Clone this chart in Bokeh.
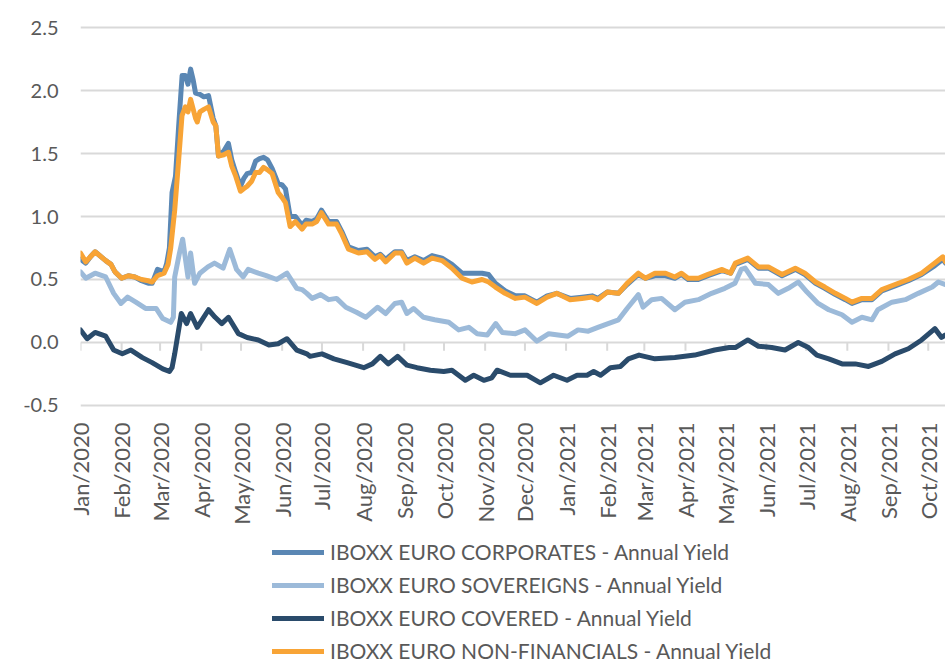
import pandas as pd
from math import pi
from bokeh.plotting import figure
from bokeh.layouts import column
from bokeh.models import Range1d, FixedTicker, NumeralTickFormatter, Legend, LegendItem
from bokeh.embed import file_html
from bokeh.resources import INLINE

# ---------------- data ----------------
start_date = "2020-01-01"
end_day = 652

tick_labels = ["Jan/2020", "Feb/2020", "Mar/2020", "Apr/2020", "May/2020", "Jun/2020",
               "Jul/2020", "Aug/2020", "Sep/2020", "Oct/2020", "Nov/2020", "Dec/2020",
               "Jan/2021", "Feb/2021", "Mar/2021", "Apr/2021", "May/2021", "Jun/2021",
               "Jul/2021", "Aug/2021", "Sep/2021", "Oct/2021"]
y_ticks = [-0.5, 0.0, 0.5, 1.0, 1.5, 2.0, 2.5]

series_names = ["IBOXX EURO CORPORATES - Annual Yield",
                "IBOXX EURO SOVEREIGNS - Annual Yield",
                "IBOXX EURO COVERED - Annual Yield",
                "IBOXX EURO NON-FINANCIALS - Annual Yield"]

# days since 2020-01-01
corp_days = [0, 4, 7.5, 11, 19, 23, 26, 31, 36, 41, 46, 51, 54, 58, 63, 65, 67, 69, 71.6, 74,
             76.6, 79, 81, 83, 85, 86.7, 90, 93, 96.5, 100, 102, 104, 108, 111.5, 114, 117,
             120.6, 123, 125.6, 129, 132, 135, 138, 141, 144.5, 149, 152, 154.5, 158, 162,
             167, 170, 174.6, 178, 181.6, 187, 193, 197, 202, 209.5, 216, 222, 226, 230, 237,
             242, 246, 252, 258.6, 265, 272.5, 280, 287.6, 295, 302.7, 307.6, 312.7, 320,
             327.8, 335, 344, 351.7, 359, 369, 378, 385.6, 390, 397, 405.5, 412, 420.5,
             425.8, 433, 441, 448, 453, 458, 465.7, 473, 483.6, 490, 493.6, 503, 511, 518.5,
             528.8, 538.8, 546, 554, 561, 569, 576.5, 581.5, 589, 596.6, 604, 614, 624, 634,
             644, 650, 652]
corp_vals = [0.66, 0.63, 0.68, 0.72, 0.65, 0.62, 0.56, 0.51, 0.53, 0.52, 0.49, 0.47, 0.47, 0.58,
             0.56, 0.63, 0.75, 1.19, 1.32, 1.72, 2.12, 2.12, 2.05, 2.17, 2.08, 1.98, 1.97, 1.95,
             1.96, 1.78, 1.72, 1.48, 1.52, 1.58, 1.45, 1.35, 1.24, 1.30, 1.34, 1.35, 1.44, 1.46,
             1.47, 1.45, 1.38, 1.26, 1.25, 1.22, 1.00, 1.00, 0.93, 0.97, 0.96, 0.98, 1.05, 0.96,
             0.96, 0.88, 0.76, 0.73, 0.74, 0.68, 0.70, 0.66, 0.72, 0.72, 0.65, 0.68, 0.65, 0.69,
             0.67, 0.62, 0.55, 0.55, 0.55, 0.54, 0.47, 0.41, 0.37, 0.37, 0.32, 0.37, 0.39, 0.35,
             0.36, 0.37, 0.35, 0.40, 0.39, 0.46, 0.54, 0.51, 0.53, 0.53, 0.51, 0.54, 0.50, 0.50,
             0.53, 0.57, 0.55, 0.62, 0.66, 0.59, 0.59, 0.53, 0.58, 0.54, 0.47, 0.43, 0.38, 0.34,
             0.31, 0.34, 0.34, 0.41, 0.45, 0.49, 0.54, 0.61, 0.66, 0.63]

sov_days = [0, 4, 11, 19, 25, 30.5, 35.5, 41.7, 49, 57, 62, 68, 70, 71, 74.6, 77, 81, 83, 86,
            90, 96, 101, 107.5, 112.5, 117.6, 122.6, 126.4, 134, 140, 148, 155.6, 163, 167,
            170.6, 174.6, 181, 187, 193, 200, 208, 215, 224, 230, 237, 242, 246, 251, 258.6,
            267, 277.6, 285, 292.7, 299, 306.6, 313, 318, 327.8, 335, 344, 353, 360, 367.5,
            375, 382.7, 390, 397.7, 405.5, 412, 420.5, 424, 430.6, 438, 448, 455.6, 465.7,
            475.7, 485.7, 493.3, 498, 501, 508.7, 518.5, 526, 533.5, 541, 547.6, 556, 564,
            574, 581.5, 589, 596.6, 601, 611.6, 621.7, 631.5, 642, 646.6, 652]
sov_vals = [0.56, 0.51, 0.55, 0.52, 0.39, 0.31, 0.36, 0.32, 0.27, 0.27, 0.19, 0.16, 0.20, 0.52,
            0.71, 0.82, 0.52, 0.71, 0.47, 0.55, 0.60, 0.63, 0.59, 0.74, 0.58, 0.52, 0.58, 0.55,
            0.53, 0.50, 0.55, 0.43, 0.42, 0.39, 0.35, 0.38, 0.34, 0.35, 0.28, 0.24, 0.20, 0.28,
            0.23, 0.31, 0.32, 0.23, 0.27, 0.20, 0.18, 0.16, 0.10, 0.12, 0.07, 0.06, 0.15, 0.08,
            0.07, 0.10, 0.01, 0.07, 0.06, 0.05, 0.10, 0.09, 0.12, 0.15, 0.18, 0.27, 0.38, 0.28,
            0.34, 0.35, 0.26, 0.32, 0.34, 0.39, 0.43, 0.47, 0.58, 0.59, 0.47, 0.46, 0.39, 0.43,
            0.48, 0.40, 0.31, 0.26, 0.22, 0.16, 0.20, 0.18, 0.26, 0.32, 0.34, 0.39, 0.44, 0.48,
            0.46]

cov_days = [0, 5, 11, 19, 25, 31.5, 38, 46.7, 54, 62, 67, 69, 71, 76, 80, 83, 88, 96.5, 101.5,
            106.5, 111.5, 119, 125.6, 134, 142, 149, 155.6, 163, 170.6, 173, 182, 191, 201,
            213.5, 220, 226, 232, 239, 246, 253.7, 263.7, 273.8, 280, 290, 296.4, 304, 310,
            314, 324, 336.6, 346.6, 356.6, 366.7, 374.3, 381.8, 386.8, 392, 399.4, 407, 413,
            421, 433, 448, 463, 478, 489, 493.6, 503, 511, 521, 531, 541, 548.7, 555, 564, 574,
            584, 594, 604, 614, 624, 634, 644, 649, 652]
cov_vals = [0.10, 0.03, 0.08, 0.05, -0.06, -0.09, -0.06, -0.12, -0.16, -0.21, -0.23, -0.20,
            -0.09, 0.23, 0.15, 0.23, 0.12, 0.26, 0.20, 0.15, 0.20, 0.07, 0.04, 0.02, -0.02,
            -0.01, 0.03, -0.06, -0.09, -0.11, -0.09, -0.13, -0.16, -0.20, -0.17, -0.11, -0.17,
            -0.11, -0.18, -0.20, -0.22, -0.23, -0.22, -0.30, -0.26, -0.30, -0.28, -0.22, -0.26,
            -0.26, -0.32, -0.26, -0.30, -0.26, -0.26, -0.23, -0.26, -0.20, -0.19, -0.13, -0.10,
            -0.13, -0.12, -0.10, -0.06, -0.04, -0.04, 0.02, -0.03, -0.04, -0.06, 0.00, -0.04,
            -0.10, -0.13, -0.17, -0.17, -0.19, -0.15, -0.09, -0.05, 0.02, 0.11, 0.04, 0.06]

nonfin_days = [0, 4, 7.5, 11, 19, 23, 26, 31, 36, 41, 46, 51, 54, 58, 63, 66, 68, 71, 74, 76.5,
               79, 81, 83, 86.7, 88, 90, 93, 96.5, 100, 102, 104, 108, 111.5, 114, 117, 120.6,
               123, 125.6, 129, 132, 135, 138, 141, 144.5, 149, 152, 154.5, 158, 162, 167, 170,
               174.6, 178, 181.6, 187, 193, 197, 202, 209.5, 216, 222, 226, 230, 237, 242, 246,
               252, 258.6, 265, 272.5, 280, 287.6, 295, 302.7, 307.6, 312.7, 320, 327.8, 335,
               344, 351.7, 359, 369, 378, 385.6, 390, 397, 405.5, 412, 420.5, 425.8, 433, 441,
               448, 453, 458, 465.7, 473, 483.6, 490, 493.6, 503, 511, 518.5, 528.8, 538.8, 546,
               554, 561, 569, 576.5, 581.5, 589, 596.6, 604, 614, 624, 634, 644, 650, 652]
nonfin_vals = [0.71, 0.64, 0.68, 0.72, 0.65, 0.62, 0.56, 0.51, 0.53, 0.52, 0.50, 0.49, 0.48,
               0.53, 0.55, 0.62, 0.75, 1.05, 1.45, 1.80, 1.87, 1.83, 1.93, 1.78, 1.75, 1.83,
               1.85, 1.87, 1.75, 1.72, 1.48, 1.49, 1.51, 1.40, 1.32, 1.20, 1.22, 1.24, 1.28,
               1.35, 1.35, 1.39, 1.37, 1.34, 1.19, 1.15, 1.11, 0.92, 0.96, 0.90, 0.94, 0.94,
               0.96, 1.03, 0.94, 0.94, 0.86, 0.74, 0.71, 0.72, 0.66, 0.69, 0.64, 0.71, 0.71,
               0.63, 0.67, 0.63, 0.67, 0.65, 0.59, 0.51, 0.48, 0.50, 0.48, 0.44, 0.39, 0.35,
               0.36, 0.31, 0.36, 0.39, 0.34, 0.35, 0.36, 0.34, 0.40, 0.39, 0.47, 0.55, 0.51,
               0.55, 0.55, 0.52, 0.55, 0.51, 0.51, 0.54, 0.58, 0.55, 0.63, 0.67, 0.60, 0.60,
               0.54, 0.59, 0.55, 0.48, 0.44, 0.39, 0.35, 0.32, 0.35, 0.35, 0.42, 0.46, 0.50,
               0.55, 0.63, 0.68, 0.64]

colors = ["#5A87B4", "#9CBAD9", "#2A4B6B", "#F8A436"]

# ---------------- helpers ----------------
t0 = pd.Timestamp(start_date)


def to_dates(days):
    return t0 + pd.to_timedelta(pd.Series(days, dtype=float), unit="D")


tick_dates = pd.to_datetime(pd.Series(tick_labels), format="%b/%Y")
tick_ms = [(d - pd.Timestamp("1970-01-01")) / pd.Timedelta(milliseconds=1) for d in tick_dates]

FONT = "Lato"
TXT = "#595959"
GRID = "#D9D9D9"

series = [(corp_days, corp_vals), (sov_days, sov_vals), (cov_days, cov_vals),
          (nonfin_days, nonfin_vals)]

# ---------------- main chart ----------------
p = figure(width=945, height=532, x_axis_type="datetime",
           x_range=Range1d(t0, t0 + pd.Timedelta(days=end_day)),
           y_range=Range1d(-0.524, 2.524),
           output_backend="svg", toolbar_location=None,
           min_border_left=80, min_border_right=0, min_border_top=24, min_border_bottom=124)
p.outline_line_color = None
p.background_fill_color = "white"
p.border_fill_color = "white"

p.xaxis.ticker = FixedTicker(ticks=tick_ms)
p.xaxis.major_label_overrides = {ms: lab for ms, lab in zip(tick_ms, tick_labels)}
p.xaxis.major_label_orientation = pi / 2
p.xaxis.axis_line_color = None
p.xaxis.major_tick_line_color = None
p.xaxis.major_tick_out = 0
p.xaxis.major_tick_in = 0
p.xaxis.minor_tick_line_color = None
p.xaxis.major_label_standoff = 14
p.xaxis.major_label_text_font = FONT
p.xaxis.major_label_text_font_size = "22px"
p.xaxis.major_label_text_color = TXT

p.yaxis.ticker = FixedTicker(ticks=y_ticks)
p.yaxis.formatter = NumeralTickFormatter(format="0.0")
p.yaxis.axis_line_color = None
p.yaxis.major_tick_line_color = None
p.yaxis.major_tick_out = 0
p.yaxis.major_tick_in = 0
p.yaxis.minor_tick_line_color = None
p.yaxis.major_label_standoff = 22
p.yaxis.major_label_text_font = FONT
p.yaxis.major_label_text_font_size = "20px"
p.yaxis.major_label_text_color = TXT

p.xgrid.grid_line_color = None
p.ygrid.grid_line_color = GRID
p.ygrid.grid_line_width = 2

# small category tick marks hanging off the zero line
p.segment(x0=tick_dates, y0=0, x1=tick_dates, y1=-0.065, line_color=GRID, line_width=2)

for (days, vals), col in zip(series, colors):
    p.line(to_dates(days), vals, line_color=col, line_width=5,
           line_join="round", line_cap="round")

# ---------------- legend strip below the chart ----------------
# the strip's x range lies outside the data, so only the legend swatches show
lg = figure(width=945, height=131, x_range=Range1d(-2, -1), y_range=Range1d(-1, 3),
            output_backend="svg", toolbar_location=None,
            min_border_left=0, min_border_right=0, min_border_top=0, min_border_bottom=0)
lg.axis.visible = False
lg.grid.visible = False
lg.outline_line_color = None
lg.background_fill_color = "white"
lg.border_fill_color = "white"

items = []
for name, (days, vals), col in zip(series_names, series, colors):
    r = lg.line(days, vals, line_color=col, line_width=5, line_cap="round")
    items.append(LegendItem(label=name, renderers=[r]))

legend = Legend(items=items, location=(192, 0), orientation="vertical",
                glyph_width=52, glyph_height=24, label_height=24, spacing=8,
                label_standoff=6, padding=0, margin=0,
                label_text_font=FONT, label_text_font_size="21px", label_text_color=TXT,
                border_line_color=None, background_fill_alpha=0)
lg.add_layout(legend, "center")

open("out.html", "w").write(file_html(column(p, lg), INLINE))
